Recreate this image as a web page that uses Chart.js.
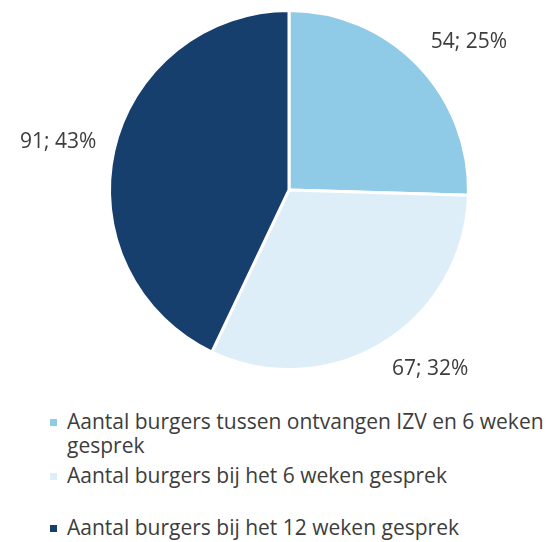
<!DOCTYPE html>
<html lang="nl">
<head>
  <meta charset="UTF-8">
  <title>Aantal burgers per gesprek</title>
  <script src="https://cdn.jsdelivr.net/npm/chart.js"></script>
  <style>
    body { margin: 0; background: #fff; font-family: "Open Sans", sans-serif; color: #3d3d3d; }
    .wrap { position: relative; width: 547px; height: 542px; }
    .pie { position: absolute; left: 0; top: 0; width: 547px; height: 400px; }
    .legend { position: absolute; left: 50px; top: 409px; width: 497px; font-size: 21px; line-height: 24px; }
    .legend div { position: relative; padding-left: 17px; }
    .legend div.i1 { margin-top: 6px; }
    .legend div.i2 { margin-top: 28px; }
    .legend span { position: absolute; left: 0; top: 10px; width: 7px; height: 7px; }
  </style>
</head>
<body>
  <div class="wrap">
    <div class="pie"><canvas id="chart"></canvas></div>
    <div class="legend" id="legend"></div>
  </div>

  <script>
    const labels = [
      'Aantal burgers tussen ontvangen IZV en 6 weken gesprek',
      'Aantal burgers bij het 6 weken gesprek',
      'Aantal burgers bij het 12 weken gesprek'
    ];
    const counts = [54, 67, 91];
    const percents = [25, 32, 43];
    const colors = ['#8fcae7', '#ddeef8', '#163f6e'];

    // legend as html, onder de taart
    const legend = document.getElementById('legend');
    labels.forEach((l, i) => {
      const d = document.createElement('div');
      d.className = 'i' + i;
      d.innerHTML = '<span style="background:' + colors[i] + '"></span>' + l;
      legend.appendChild(d);
    });

    const clamp = v => Math.max(-1, Math.min(1, v));

    // labels buiten de taart, hoek van het label tegen de rand (zoals excel)
    const outsideLabels = {
      id: 'outsideLabels',
      afterDatasetsDraw(chart) {
        const ctx = chart.ctx;
        const arcs = chart.getDatasetMeta(0).data;
        ctx.save();
        ctx.font = '21px "Open Sans"';
        ctx.fillStyle = '#3d3d3d';
        ctx.textAlign = 'center';
        ctx.textBaseline = 'middle';
        arcs.forEach((a, i) => {
          const txt = counts[i] + '; ' + percents[i] + '%';
          const w = ctx.measureText(txt).width;
          const h = 20;
          const mid = (a.startAngle + a.endAngle) / 2;
          const dx = Math.cos(mid), dy = Math.sin(mid);
          const r = a.outerRadius + 18;
          const x = a.x + dx * r + clamp(dx * 2) * w / 2;
          const y = a.y + dy * r + clamp(dy * 2) * h / 2;
          ctx.fillText(txt, x, y);
        });
        ctx.restore();
      }
    };

    new Chart(document.getElementById('chart'), {
      type: 'pie',
      data: {
        labels,
        datasets: [{
          data: counts,
          backgroundColor: colors,
          borderColor: '#ffffff',
          borderWidth: 3
        }]
      },
      options: {
        responsive: true,
        maintainAspectRatio: false,
        animation: false,
        layout: { padding: { left: 108, right: 77, top: 9, bottom: 29 } },
        plugins: { legend: { display: false }, tooltip: { enabled: false } }
      },
      plugins: [outsideLabels]
    });
  </script>
</body>
</html>
